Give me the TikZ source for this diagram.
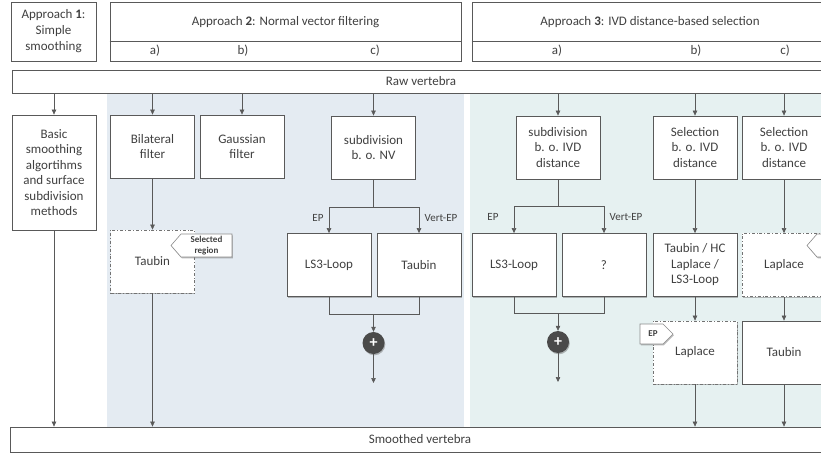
\documentclass[tikz,border=0pt]{standalone}
\usepackage{fontspec}
\setmainfont{Carlito}
\usetikzlibrary{shadows,arrows.meta,calc}
\definecolor{bord}{HTML}{595959}
\definecolor{bgA}{HTML}{E4EBF2}
\definecolor{bgB}{HTML}{E6F1F1}
\definecolor{plusc}{HTML}{4A4A4A}
\definecolor{txtc}{HTML}{404040}
\tikzset{
 shad/.style={drop shadow={shadow xshift=0.8pt,shadow yshift=-1.3pt,opacity=0.45,fill=black!60}},
 box/.style={draw=bord,line width=0.8pt,fill=white,shad,align=center,text=txtc,
   font=\fontsize{13}{15.5}\selectfont,inner sep=2pt,minimum width=84pt,minimum height=63pt},
 dbox/.style={box,dash dot,draw=bord!85},
 hdr/.style={draw=bord,line width=0.8pt,fill=white,shad,text=txtc,align=center,
   font=\fontsize{13}{16}\selectfont},
 txt/.style={font=\fontsize{13}{16}\selectfont,align=center,text=txtc},
 lbl/.style={font=\fontsize{11}{12}\selectfont,text=txtc},
 arr/.style={draw=bord,line width=0.6pt,-{Triangle[length=5pt,width=4.5pt]}},
 ln/.style={draw=bord,line width=0.6pt},
 tag/.style={draw=bord!70,fill=white,line width=0.6pt,shad},
 tagtxt/.style={font=\fontsize{9}{11.5}\selectfont\bfseries,align=center,text=txtc},
 plus/.style={circle,fill=plusc,minimum size=22pt,inner sep=0pt,shad,text=white,
   font=\bfseries\fontsize{16}{16}\selectfont}
}
\begin{document}
\begin{tikzpicture}[x=1pt,y=-1pt]
\path[use as bounding box] (0,0) rectangle (821,454);
\clip (0,0) rectangle (821,454);
% backgrounds
\fill[bgA] (107,93) rectangle (464,427);
\fill[bgB] (470,93) rectangle (821,427);

% headers
\node[hdr,minimum width=85pt,minimum height=59pt] (ap1) at (53.5,31.5) {Approach \textbf{1}:\\Simple\\smoothing};
\node[hdr,minimum width=351pt,minimum height=59pt] (ap2) at (285.5,31.5) {};
\node[hdr,minimum width=356pt,minimum height=59pt] (ap3) at (650,31.5) {};
\path (ap2.south west) ++(0,-20) coordinate (d2a);
\path (ap2.south east) ++(0,-20) coordinate (d2b);
\path (ap3.south west) ++(0,-20) coordinate (d3a);
\path (ap3.south east) ++(0,-20) coordinate (d3b);
\draw[ln] (d2a) -- (d2b);
\draw[ln] (d3a) -- (d3b);
\node[txt] (t2) at (285.5,22) {Approach \textbf{2}: Normal vector filtering};
\node[txt] (t3) at (650,22) {Approach \textbf{3}: IVD distance-based selection};
\node[txt] (l2a) at (155,51) {a)};
\node[txt] (l2b) at (243,51) {b)};
\node[txt] (l2c) at (375,51) {c)};
\node[txt] (l3a) at (557,51) {a)};
\node[txt] (l3b) at (696,51) {b)};
\node[txt] (l3c) at (785,51) {c)};

% bars
\node[hdr,minimum width=818pt,minimum height=23pt] (raw) at (421,81.5) {Raw vertebra};
\node[hdr,minimum width=820pt,minimum height=25pt] (smooth) at (420,439.5) {Smoothed vertebra};

% boxes row 1
\node[box,minimum height=115pt] (basic) at (54,172.5) {Basic\\smoothing\\algortihms\\and surface\\subdivision\\methods};
\node[box] (bil) at (152.5,146.5) {Bilateral\\filter};
\node[box] (gau) at (242,146.5) {Gaussian\\filter};
\node[box] (snv) at (373.5,147.5) {subdivision\\b. o. NV};
\node[box] (sivd) at (558,147.5) {subdivision\\b. o. IVD\\distance};
\node[box] (selb) at (695,147.5) {Selection\\b. o. IVD\\distance};
\node[box] (selc) at (784,147.5) {Selection\\b. o. IVD\\distance};

% row 2
\node[dbox] (tau1) at (152.5,261.5) {Taubin};
\node[box] (ls3a) at (329,265) {LS3-Loop};
\node[box] (tau2) at (419,265) {Taubin};
\node[box] (ls3b) at (514,265) {LS3-Loop};
\node[box] (q) at (604,265) {?};
\node[box] (thc) at (695,265) {Taubin / HC\\Laplace /\\LS3-Loop};
\node[dbox] (lapc) at (784,265) {Laplace};

% row 3
\node[dbox] (lapb) at (695,352.5) {Laplace};
\node[box] (tauc) at (784,352.5) {Taubin};

% tags
\draw[tag] (171,245.5) -- (181,234) -- (232,234) -- (232,257) -- (181,257) -- cycle;
\node[tagtxt] (seltag) at (206.5,245.5) {Selected\\region};
\draw[tag] (807,245.5) -- (817,234) -- (870,234) -- (870,257) -- (817,257) -- cycle;
\draw[tag] (640,324) -- (663,324) -- (673,334) -- (663,344) -- (640,344) -- cycle;
\node[tagtxt] (eptag) at (653,334) {EP};

% arrows from raw
\draw[arr] (basic.north |- raw.south) -- (basic.north);
\draw[arr] (bil.north |- raw.south) -- (bil.north);
\draw[arr] (gau.north |- raw.south) -- (gau.north);
\draw[arr] (snv.north |- raw.south) -- (snv.north);
\draw[arr] (sivd.north |- raw.south) -- (sivd.north);
\draw[arr] (selb.north |- raw.south) -- (selb.north);
\draw[arr] (selc.north |- raw.south) -- (selc.north);

% approach 1 & 2a
\draw[arr] (basic.south) -- (basic.south |- smooth.north);
\draw[arr] (bil.south) -- (tau1.north);
\draw[arr] (tau1.south) -- (tau1.south |- smooth.north);

% approach 2c
\coordinate (br1) at (373.5,207);
\draw[ln] (snv.south) -- (br1);
\draw[arr] (br1) -| (ls3a.north);
\draw[arr] (br1) -| (tau2.north);
\node[lbl] (ep1) at (318,218) {EP};
\node[lbl] (vep1) at (441,218) {Vert-EP};
\coordinate (bk1) at (373.5,314);
\draw[ln] (ls3a.south) |- (bk1);
\draw[ln] (tau2.south) |- (bk1);
\node[plus] (p1) at (373.5,343) {+};
\draw[arr] (bk1) -- (p1.north);
\coordinate (e1) at (373.5,383);
\draw[arr] (p1.south) -- (e1);

% approach 3a
\coordinate (br2) at (558,206);
\draw[ln] (sivd.south) -- (br2);
\draw[arr] (br2) -| (ls3b.north);
\draw[arr] (br2) -| (q.north);
\node[lbl] (ep2) at (493,217) {EP};
\node[lbl] (vep2) at (626,217) {Vert-EP};
\coordinate (bk2) at (558,313);
\draw[ln] (ls3b.south) |- (bk2);
\draw[ln] (q.south) |- (bk2);
\node[plus] (p2) at (558,342) {+};
\draw[arr] (bk2) -- (p2.north);
\coordinate (e2) at (558,382);
\draw[arr] (p2.south) -- (e2);

% approach 3b, 3c
\draw[arr] (selb.south) -- (thc.north);
\draw[arr] (thc.south) -- (lapb.north);
\draw[arr] (lapb.south) -- (lapb.south |- smooth.north);
\draw[arr] (selc.south) -- (lapc.north);
\draw[arr] (lapc.south) -- (tauc.north);
\draw[arr] (tauc.south) -- (tauc.south |- smooth.north);
\end{tikzpicture}
\end{document}
